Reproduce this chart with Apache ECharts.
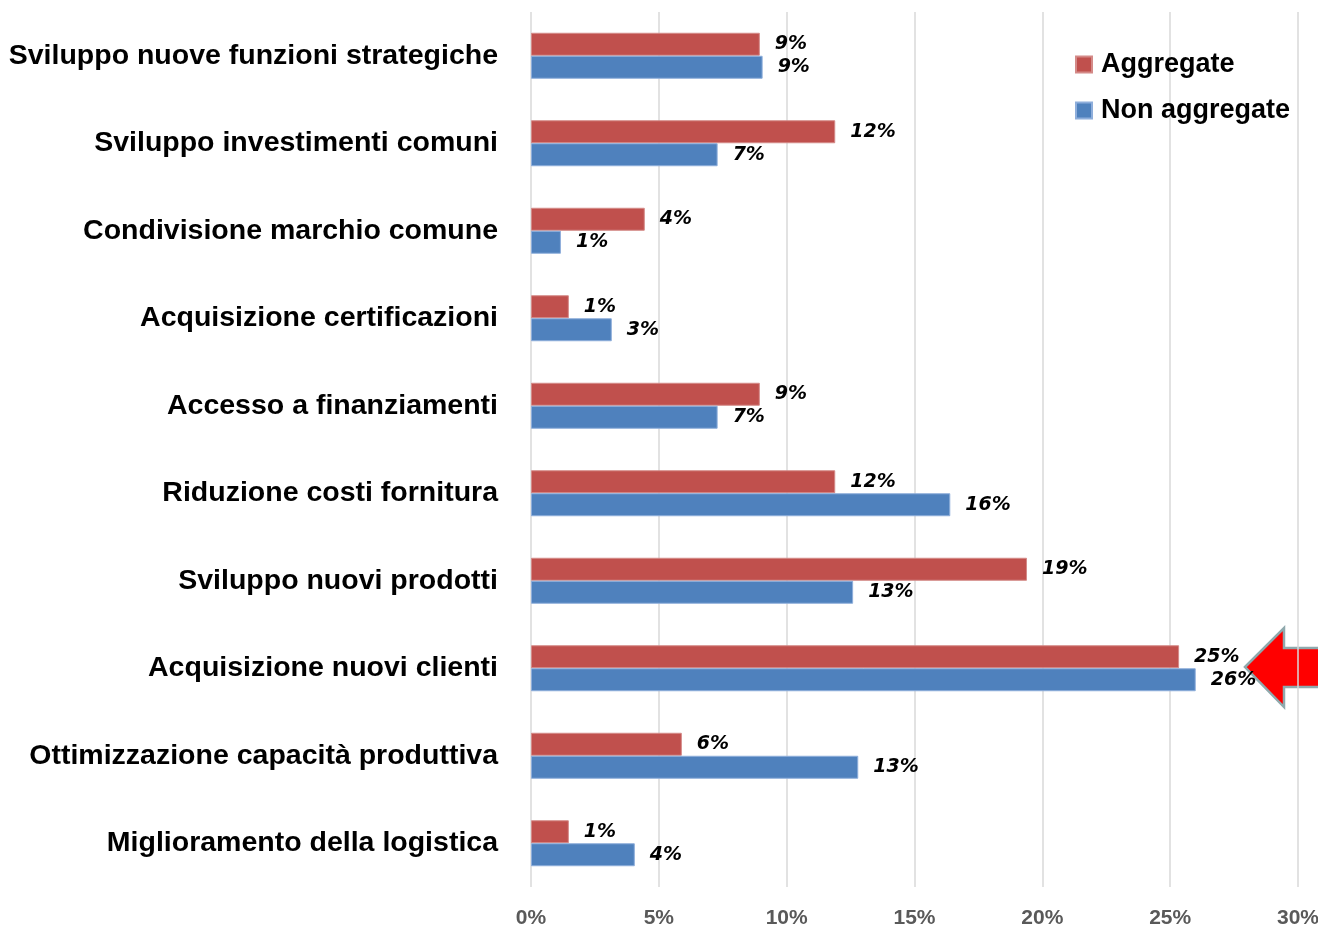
<!DOCTYPE html>
<html>
<head>
<meta charset="utf-8">
<style>
  html, body { margin: 0; padding: 0; background: #fff; }
  #chart { width: 1318px; height: 930px; }
</style>
<script src="https://cdn.jsdelivr.net/npm/echarts@6/dist/echarts.min.js"></script>
</head>
<body>
<div id="chart"></div>
<script>
// categories, top to bottom
var categories = [
  'Sviluppo nuove funzioni strategiche',
  'Sviluppo investimenti comuni',
  'Condivisione marchio comune',
  'Acquisizione certificazioni',
  'Accesso a finanziamenti',
  'Riduzione costi fornitura',
  'Sviluppo nuovi prodotti',
  'Acquisizione nuovi clienti',
  'Ottimizzazione capacità produttiva',
  'Miglioramento della logistica'
]
// values in percent
var aggregate = [8.95, 11.9, 4.45, 1.48, 8.95, 11.9, 19.4, 25.35, 5.9, 1.48]
var nonAggregate = [9.06, 7.3, 1.17, 3.16, 7.3, 16.4, 12.6, 26.0, 12.8, 4.06]
var seriesNames = ['Aggregate', 'Non aggregate']

var chart = echarts.init(document.getElementById('chart'))

var labelStyle = {
  show: true,
  position: 'right',
  distance: 15,
  color: '#000',
  fontFamily: 'DejaVu Sans',
  fontWeight: 'bold',
  fontStyle: 'italic',
  fontSize: 19,
  formatter: function (p) { return Math.round(p.value) + '%' }
}

chart.setOption({
  animation: false,
  legend: {
    data: seriesNames,
    orient: 'vertical',
    left: 1070,
    top: 46,
    itemWidth: 16,
    itemHeight: 16,
    itemGap: 19,
    icon: 'rect',
    textStyle: {
      color: '#000',
      fontFamily: 'Liberation Sans',
      fontWeight: 'bold',
      fontSize: 27,
      padding: [0, 0, 0, 4]
    }
  },
  grid: {
    left: 531,
    right: 20,
    top: 12,
    bottom: 43,
    containLabel: false,
    outerBoundsMode: 'none'
  },
  xAxis: {
    type: 'value',
    min: 0,
    max: 30,
    interval: 5,
    axisLine: { show: false },
    axisTick: { show: false },
    splitLine: { lineStyle: { color: '#d9d9d9', width: 1.5 } },
    axisLabel: {
      formatter: '{value}%',
      color: '#595959',
      fontFamily: 'Liberation Sans',
      fontWeight: 'bold',
      fontSize: 21,
      margin: 21
    }
  },
  yAxis: {
    type: 'category',
    data: categories,
    inverse: true,
    axisLine: { show: false },
    axisTick: { show: false },
    axisLabel: {
      color: '#000',
      fontFamily: 'Liberation Sans',
      fontWeight: 'bold',
      fontSize: 28.5,
      margin: 33
    }
  },
  series: [
    {
      name: seriesNames[0],
      type: 'bar',
      data: aggregate,
      barWidth: 23,
      barGap: '0%',
      itemStyle: { color: '#c0504d', borderColor: '#d48a88', borderWidth: 1 },
      label: labelStyle
    },
    {
      name: seriesNames[1],
      type: 'bar',
      data: nonAggregate,
      barWidth: 23,
      barGap: '0%',
      itemStyle: { color: '#4f81bd', borderColor: '#8eaedb', borderWidth: 1 },
      label: labelStyle
    }
  ],
  graphic: [
    {
      type: 'polygon',
      shape: {
        points: [[1245, 667], [1284, 628], [1284, 648], [1330, 648], [1330, 687], [1284, 687], [1284, 707]]
      },
      style: { fill: '#ff0000', stroke: '#8fa9ad', lineWidth: 2.5 }
    }
  ]
})
</script>
</body>
</html>
